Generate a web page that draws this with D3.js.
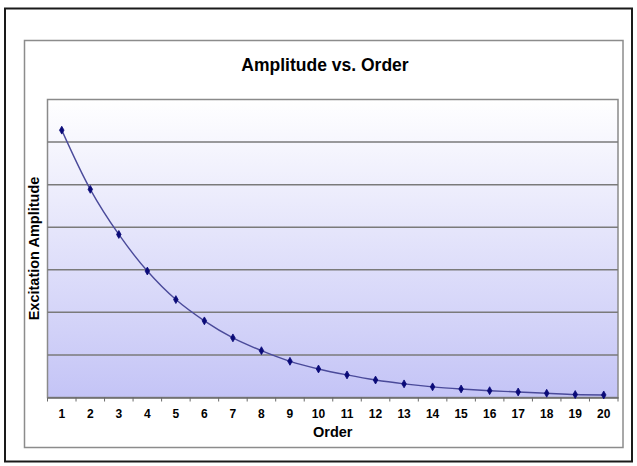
<!DOCTYPE html>
<html>
<head>
<meta charset="utf-8">
<script src="https://cdn.jsdelivr.net/npm/d3@7/dist/d3.min.js"></script>
<style>
  html, body { margin: 0; padding: 0; background: #ffffff; }
  svg { display: block; }
  text { font-family: Arial, "Liberation Sans", sans-serif; fill: #000; }
</style>
</head>
<body>
<svg id="chart" width="637" height="466"></svg>
<script>
// Harmonic orders and their excitation amplitudes
const orders = [1, 2, 3, 4, 5, 6, 7, 8, 9, 10, 11, 12, 13, 14, 15, 16, 17, 18, 19, 20];
const amplitudes = [6.28, 4.89, 3.83, 2.97, 2.30, 1.80, 1.40, 1.10, 0.85, 0.67,
                    0.53, 0.41, 0.32, 0.25, 0.20, 0.16, 0.13, 0.10, 0.07, 0.06];
const gridValues = [1, 2, 3, 4, 5, 6];
const yMax = 7;

const titleText = "Amplitude vs. Order";
const xTitle = "Order";
const yTitle = "Excitation Amplitude";

const svg = d3.select("#chart");

// Outer frame
svg.append("rect")
  .attr("x", 5).attr("y", 8.5).attr("width", 627).attr("height", 453)
  .attr("fill", "#fff").attr("stroke", "#1a1a1a").attr("stroke-width", 2);

// Chart area frame
svg.append("rect")
  .attr("x", 24.5).attr("y", 40.5).attr("width", 598.5).attr("height", 407)
  .attr("fill", "#fff").attr("stroke", "#8c8c8c").attr("stroke-width", 1.5);

const plot = { left: 47.5, right: 618, top: 99.5, bottom: 397.5 };

const x = d3.scaleBand()
  .domain(orders)
  .range([plot.left, plot.right]);

const y = d3.scaleLinear()
  .domain([0, yMax])
  .range([plot.bottom, plot.top]);

// Plot background gradient
const defs = svg.append("defs");
const grad = defs.append("linearGradient")
  .attr("id", "plotFill").attr("x1", 0).attr("y1", 0).attr("x2", 0).attr("y2", 1);
grad.append("stop").attr("offset", "0%").attr("stop-color", "#ffffff");
grad.append("stop").attr("offset", "100%").attr("stop-color", "#c4c4f6");

svg.append("rect")
  .attr("x", plot.left).attr("y", plot.top)
  .attr("width", plot.right - plot.left).attr("height", plot.bottom - plot.top)
  .attr("fill", "url(#plotFill)")
  .attr("stroke", "#8a8a8a").attr("stroke-width", 1.5);

// Horizontal gridlines
svg.append("g")
  .selectAll("line")
  .data(gridValues)
  .join("line")
  .attr("x1", plot.left).attr("x2", plot.right)
  .attr("y1", d => y(d)).attr("y2", d => y(d))
  .attr("stroke", "#7a7a7a").attr("stroke-width", 1.5);

// X axis with ticks between categories
const xAxis = d3.axisBottom(x).tickSize(0).tickPadding(12);
const gx = svg.append("g")
  .attr("transform", `translate(0,${plot.bottom})`)
  .call(xAxis);
gx.select(".domain").attr("stroke", "#6a6a6a").attr("stroke-width", 1.5);
gx.selectAll(".tick text")
  .attr("font-size", 12).attr("font-weight", "bold").attr("fill", "#111");

const boundaries = orders.map(d => x(d)).concat([plot.right]);
gx.append("g").selectAll("line")
  .data(boundaries)
  .join("line")
  .attr("x1", d => d).attr("x2", d => d)
  .attr("y1", 0).attr("y2", 4)
  .attr("stroke", "#6a6a6a").attr("stroke-width", 1);

// Smoothed series line
const series = orders.map((o, i) => ({ order: o, value: amplitudes[i] }));
const line = d3.line()
  .x(d => x(d.order) + x.bandwidth() / 2)
  .y(d => y(d.value))
  .curve(d3.curveCatmullRom.alpha(0.5));

svg.append("path")
  .datum(series)
  .attr("d", line)
  .attr("fill", "none")
  .attr("stroke", "#4a4a9a")
  .attr("stroke-width", 1.4);

// Diamond markers
const diamond = d3.symbol().type(d3.symbolDiamond).size(18);
svg.append("g")
  .selectAll("path")
  .data(series)
  .join("path")
  .attr("d", diamond)
  .attr("transform", d => `translate(${x(d.order) + x.bandwidth() / 2},${y(d.value)})`)
  .attr("fill", "#0a0a78")
  .attr("stroke", "#0a0a78").attr("stroke-width", 0.8);

// Titles
svg.append("text")
  .attr("x", 325).attr("y", 71)
  .attr("text-anchor", "middle")
  .attr("font-size", 17.5).attr("font-weight", "bold")
  .text(titleText);

svg.append("text")
  .attr("x", (plot.left + plot.right) / 2).attr("y", 437)
  .attr("text-anchor", "middle")
  .attr("font-size", 14.5).attr("font-weight", "bold")
  .text(xTitle);

svg.append("text")
  .attr("transform", `translate(39,${(plot.top + plot.bottom) / 2}) rotate(-90)`)
  .attr("text-anchor", "middle")
  .attr("font-size", 14.5).attr("font-weight", "bold")
  .text(yTitle);
</script>
</body>
</html>
